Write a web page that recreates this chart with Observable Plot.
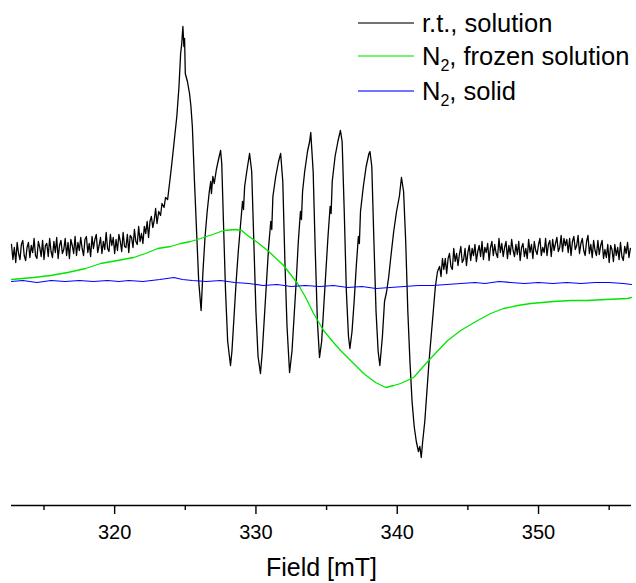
<!DOCTYPE html>
<html><head><meta charset="utf-8">
<script src="https://cdn.jsdelivr.net/npm/d3@7"></script>
<script src="https://cdn.jsdelivr.net/npm/@observablehq/plot@0.6"></script>
<style>
body{margin:0;background:#fff;font-family:"Liberation Sans",Arial,sans-serif}
#wrap{position:relative;width:636px;height:583px;background:#fff}
.row{position:absolute;left:358px;height:30px;display:flex;align-items:center;font-size:25.5px;line-height:30px;color:#000;white-space:nowrap}
.row .sw{display:inline-block;width:56px;height:2px;margin-right:8px;opacity:0.55}
.row sub{font-size:16px;vertical-align:-6px;line-height:0}
g[aria-label="x-axis label"]{font-size:25px}
</style></head><body><div id="wrap"></div><script>
// ---- data (field in mT, signal in arbitrary units) ----
const seriesNames = ["r.t., solution", "N<sub>2</sub>, frozen solution", "N<sub>2</sub>, solid"];
const seriesColors = ["#000000", "#00e600", "#0000ff"];
const majorTicks = [320, 330, 340, 350];
const minorTicks = [315, 325, 335, 345, 355];

const rtField = [
312.7,312.8,312.9,313.0,313.1,313.2,313.3,313.4,313.5,313.6,313.7,313.8,313.9,314.0,314.1,314.2,314.3,314.4,314.5,314.6,
314.7,314.8,314.9,315.0,315.1,315.2,315.3,315.4,315.5,315.6,315.7,315.8,315.9,316.0,316.1,316.2,316.3,316.4,316.5,316.6,
316.7,316.8,316.9,317.0,317.1,317.2,317.3,317.4,317.5,317.6,317.7,317.8,317.9,318.0,318.1,318.2,318.3,318.4,318.5,318.6,
318.7,318.8,318.9,319.0,319.1,319.2,319.3,319.4,319.5,319.6,319.7,319.8,319.9,320.0,320.1,320.2,320.3,320.4,320.5,320.6,
320.7,320.8,320.9,321.0,321.1,321.2,321.3,321.4,321.5,321.6,321.7,321.8,321.9,322.0,322.1,322.2,322.3,322.4,322.5,322.6,
322.7,322.8,322.9,323.0,
323.12,323.25,323.35,323.50,323.60,323.75,323.90,324.00,324.10,324.25,324.40,324.55,324.67,324.75,324.83,324.90,
324.95,325.00,325.15,325.30,325.40,325.50,325.65,325.80,325.95,326.12,326.25,326.40,326.55,326.70,326.80,326.85,
326.95,327.05,327.20,327.35,327.50,327.58,327.70,327.85,328.00,328.20,328.30,328.45,328.60,328.75,328.90,329.05,
329.12,329.20,329.35,329.55,329.70,329.85,330.00,330.15,330.32,330.45,330.60,330.75,330.90,331.05,331.12,331.20,
331.40,331.60,331.75,331.90,332.05,332.20,332.38,332.55,332.70,332.85,333.00,333.15,333.22,333.30,333.45,333.65,
333.80,333.88,334.05,334.20,334.35,334.50,334.65,334.80,334.95,335.10,335.25,335.32,335.40,335.60,335.80,335.98,
336.10,336.25,336.40,336.55,336.65,336.80,336.95,337.10,337.25,337.32,337.40,337.60,337.80,338.00,338.07,338.20,
338.35,338.50,338.65,338.77,338.95,339.10,339.25,339.40,339.55,339.75,339.95,340.15,340.30,340.45,340.60,340.75,
340.90,341.05,341.20,341.35,341.50,341.60,341.70,341.80,341.95,342.10,342.25,342.40,342.55,342.70,342.85,343.00,
343.1,343.2,343.3,343.4,343.5,343.6,343.7,343.8,343.9,344.0,344.1,344.2,344.3,344.4,344.5,344.6,344.7,344.8,344.9,345.0,
345.1,345.2,345.3,345.4,345.5,345.6,345.7,345.8,345.9,346.0,346.1,346.2,346.3,346.4,346.5,346.6,346.7,346.8,346.9,347.0,
347.1,347.2,347.3,347.4,347.5,347.6,347.7,347.8,347.9,348.0,348.1,348.2,348.3,348.4,348.5,348.6,348.7,348.8,348.9,349.0,
349.1,349.2,349.3,349.4,349.5,349.6,349.7,349.8,349.9,350.0,350.1,350.2,350.3,350.4,350.5,350.6,350.7,350.8,350.9,351.0,
351.1,351.2,351.3,351.4,351.5,351.6,351.7,351.8,351.9,352.0,352.1,352.2,352.3,352.4,352.5,352.6,352.7,352.8,352.9,353.0,
353.1,353.2,353.3,353.4,353.5,353.6,353.7,353.8,353.9,354.0,354.1,354.2,354.3,354.4,354.5,354.6,354.7,354.8,354.9,355.0,
355.1,355.2,355.3,355.4,355.5,355.6,355.7,355.8,355.9,356.0,356.1,356.2,356.3,356.4,356.5];
const rtSignal = [
37,22,34,19,39,28,22,37,41,26,21,34,39,24,36,29,43,26,23,40,
34,25,41,22,36,38,25,43,30,24,40,29,44,23,36,41,28,32,43,26,
39,23,42,36,28,45,26,39,31,44,33,26,42,45,29,38,25,45,33,42,
47,29,36,44,28,40,32,49,33,30,47,36,44,28,42,31,47,40,30,49,
35,34,47,29,46,44,34,52,40,37,55,40,48,38,55,48,60,44,60,65,
54,61,73,58,
70,66,78,74,84,82,100,112,125,145,165,194,228,238,255,235,
243,208,200,188,175,155,100,50,0,-29,10,45,70,90,100,88,
105,98,112,122,131,118,60,-10,-60,-84,-70,-35,0,30,55,80,
72,95,110,128,110,40,-30,-75,-92,-70,-35,0,35,60,52,85,
105,120,128,100,20,-45,-91,-70,-35,0,40,70,62,90,110,130,
140,149,110,30,-40,-76,-60,-25,10,45,75,68,100,125,140,151,
140,70,-10,-55,-67,-50,-20,15,45,38,70,95,115,128,130,115,
40,-30,-70,-84,-55,-20,-10,5,25,50,70,85,104,90,40,-30,
-80,-120,-145,-160,-170,-165,-176,-160,-140,-110,-80,-55,-30,-5,10,15,
5,23,12,23,8,23,28,15,12,33,20,28,16,27,35,19,22,33,16,29,
36,21,33,26,37,20,30,36,25,40,22,34,29,38,21,34,40,26,37,28,
24,43,29,38,25,34,40,23,36,27,42,31,25,37,27,40,21,34,38,25,
33,23,42,29,37,23,40,31,27,37,43,26,34,29,43,26,37,41,25,42,
31,38,44,30,34,46,30,43,36,42,29,43,26,40,45,32,36,46,28,38,
43,31,26,40,46,28,37,24,41,31,26,41,27,36,41,23,32,24,37,19,
36,32,20,37,26,34,22,39,25,21,35,28,39,24,33];

const frozenField = [312.70,314.27,315.47,316.67,317.95,319.01,320.21,321.34,322.19,323.04,323.96,324.67,325.38,326.09,326.94,327.71,328.56,328.99,329.41,330.12,330.83,331.96,332.95,333.52,334.08,334.79,335.43,335.99,336.84,337.62,338.47,339.18,339.75,340.24,341.16,342.22,343.57,344.49,345.69,346.61,347.53,348.52,349.44,351.07,352.27,353.47,354.75,356.31,356.58];
const frozenSignal = [2,4,6,9,13,18,21,24,28,33,35,38,40,43,47,51,52,51,46,39,31,16,-2,-16,-32,-49,-60,-69,-81,-92,-101,-106,-104,-102,-96,-79,-59,-49,-39,-32,-27,-24,-22,-20,-19,-19,-18,-17,-16];

const solidField = [312.70,313.50,314.50,315.50,316.50,317.50,318.50,319.50,320.30,321.00,322.00,323.20,324.20,324.80,325.50,326.50,327.50,328.50,329.50,330.50,331.50,332.50,333.50,334.50,335.50,336.50,337.50,338.50,339.50,340.50,341.50,342.50,343.50,344.50,345.50,346.20,347.20,348.00,349.00,350.00,351.00,352.00,353.00,354.00,355.00,356.00,356.58];
const solidSignal = [0,1,-1,1,0,1,0,1,0,1,0,2,4,2,1,0,1,-1,-2,-4,-3,-5,-4,-5,-4,-6,-5,-7,-6,-5,-4,-4,-3,-2,-1,-2,0,-1,-2,-1,-2,-1,-2,-1,-1,-2,-3];

// ---- chart ----
const toRows = (xs, ys) => xs.map((x, i) => ({x, y: ys[i]}));
const yMin = -224, yMax = 281;

const chart = Plot.plot({
  width: 636, height: 583,
  marginLeft: 11, marginRight: 5, marginTop: 0, marginBottom: 78,
  x: {domain: [312.7, 356.58]},
  y: {domain: [yMin, yMax], axis: null},
  style: {fontFamily: '"Liberation Sans", Arial, sans-serif', background: "white", color: "black"},
  marks: [
    Plot.ruleY([yMin], {strokeWidth: 1.4}),
    Plot.axisX({ticks: majorTicks, tickSize: 9, tickPadding: 10, strokeWidth: 1.4, fontSize: 20,
      label: "Field [mT]", labelAnchor: "center", labelOffset: 70, labelArrow: "none"}),
    Plot.axisX({ticks: minorTicks, tickSize: 5, strokeWidth: 1.4, tickFormat: () => "", label: null}),
    Plot.line(toRows(rtField, rtSignal), {x: "x", y: "y", stroke: seriesColors[0], strokeWidth: 1.3}),
    Plot.line(toRows(frozenField, frozenSignal), {x: "x", y: "y", stroke: seriesColors[1], strokeWidth: 1.3}),
    Plot.line(toRows(solidField, solidSignal), {x: "x", y: "y", stroke: seriesColors[2], strokeWidth: 1.2})
  ]
});
const wrap = document.getElementById("wrap");
wrap.appendChild(chart);

const rowCenters = [23, 56, 91];
seriesNames.forEach((name, i) => {
  const r = document.createElement("div");
  r.className = "row";
  r.style.top = (rowCenters[i] - 15) + "px";
  r.innerHTML = `<span class="sw" style="background:${seriesColors[i]}"></span><span>${name}</span>`;
  wrap.appendChild(r);
});
</script></body></html>
